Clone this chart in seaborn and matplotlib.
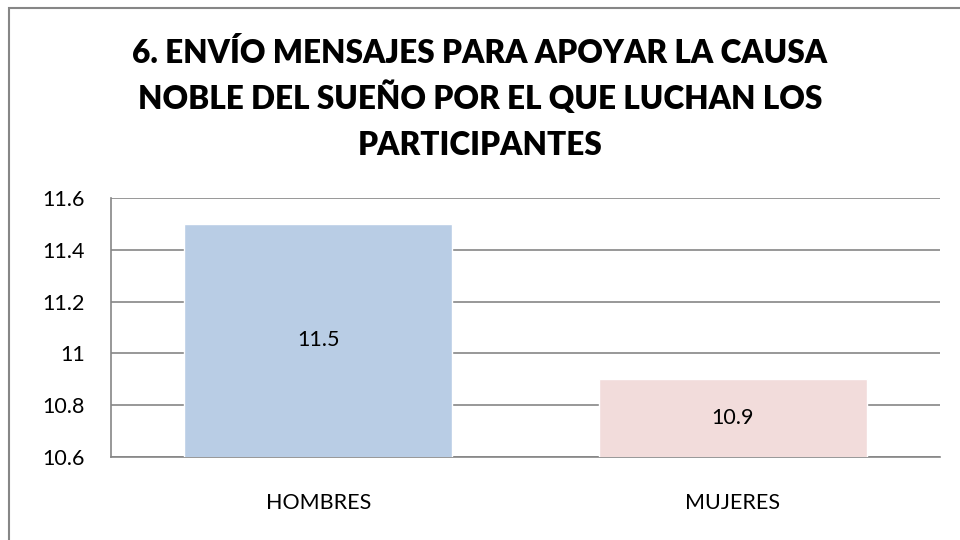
import matplotlib
matplotlib.use("Agg")
import matplotlib.pyplot as plt
import seaborn as sns
import pandas as pd
from matplotlib.patches import Rectangle

categories = ["HOMBRES", "MUJERES"]
values = [11.5, 10.9]
colors = ["#B9CDE5", "#F2DCDB"]
yticks = [10.6, 10.8, 11.0, 11.2, 11.4, 11.6]
yticklabels = ["10.6", "10.8", "11", "11.2", "11.4", "11.6"]
title_lines = ["6. ENVÍO MENSAJES PARA APOYAR LA CAUSA",
               "NOBLE DEL SUEÑO POR EL QUE LUCHAN LOS",
               "PARTICIPANTES"]

sns.set_theme(style="white")
plt.rcParams['font.family'] = ['Lato', 'DejaVu Sans']

df = pd.DataFrame({"cat": categories, "val": values})

fig = plt.figure(figsize=(9.6, 5.4), dpi=100)
ax = fig.add_axes([111/960, 1 - 457/540, (940 - 111)/960, (457 - 198)/540])

sns.barplot(data=df, x="cat", y="val", hue="cat", palette=colors, legend=False,
            width=0.647, ax=ax, saturation=1, zorder=3)

fs = 15.5
ax.set_ylim(10.6, 11.6)
ax.set_xlim(-0.5, 1.5)
ax.set_yticks(yticks)
ax.set_yticklabels(yticklabels, fontsize=fs, color="black")
ax.tick_params(axis="y", length=0, pad=19)
ax.tick_params(axis="x", length=0, pad=26, labelsize=fs, labelcolor="black")
ax.set_xlabel("")
ax.set_ylabel("")
ax.yaxis.grid(True, color="#868686", linewidth=1.2, zorder=0)
ax.set_axisbelow(True)
for s in ["top", "right"]:
    ax.spines[s].set_visible(False)
for s in ["left", "bottom"]:
    ax.spines[s].set_color("#868686")
    ax.spines[s].set_linewidth(1.2)

for i, v in enumerate(values):
    ax.text(i, (10.6 + v) / 2, f"{v:g}", ha="center", va="center", fontsize=fs, color="black", zorder=5)

for line, base in zip(title_lines, [63, 109, 155]):
    fig.text(0.5, 1 - base/540, line, ha="center", va="baseline", fontsize=22.7,
             fontweight="heavy", color="black")

fig.patches.append(Rectangle((9/960, -0.1), 1.2, 1 - 8/540 + 0.1, transform=fig.transFigure,
                             fill=False, edgecolor="#868686", linewidth=1.5))

fig.savefig("out.png", dpi=100)
